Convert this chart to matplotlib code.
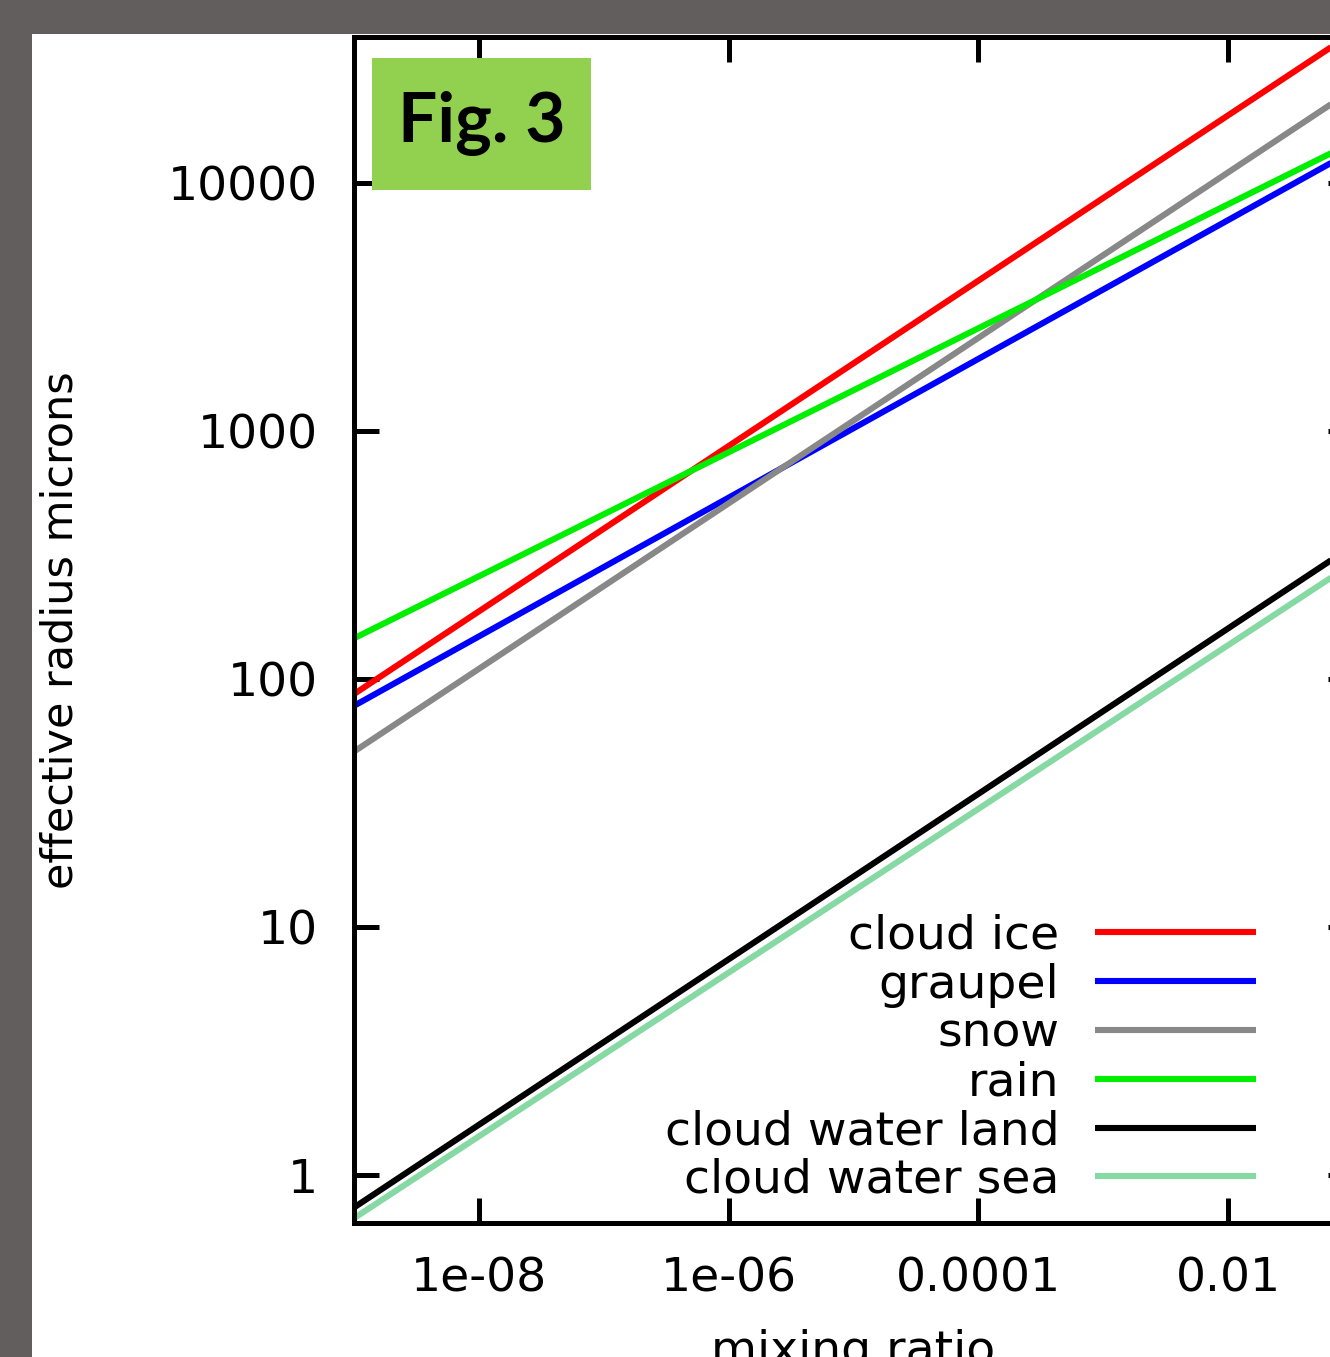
import matplotlib
matplotlib.use("Agg")
import matplotlib.pyplot as plt
from matplotlib.patches import Rectangle

# mixing ratio at the two ends of the plotted range (straight lines on log-log)
mixing_ratio = [1e-9, 1e-1]

# effective radius (microns) read at those two ends
cloud_ice = [87, 40400]
graupel = [78, 13500]
snow = [51, 23800]
rain = [146, 14600]
cloud_water_land = [0.74, 345]
cloud_water_sea = [0.67, 293]

series_names = ["cloud ice", "graupel", "snow", "rain",
                "cloud water land", "cloud water sea"]
series_values = [cloud_ice, graupel, snow, rain, cloud_water_land, cloud_water_sea]
series_colors = ["#ff0000", "#0000ff", "#888888", "#00ee00", "#000000", "#86d9a3"]

x_ticks = [1e-8, 1e-6, 1e-4, 1e-2]
x_tick_labels = ["1e-08", "1e-06", "0.0001", "0.01"]
y_ticks = [1, 10, 100, 1000, 10000]
y_tick_labels = ["1", "10", "100", "1000", "10000"]

W, H = 1330, 1357
fig = plt.figure(figsize=(W / 100, H / 100), dpi=100)
fig.patch.set_facecolor("#625e5d")

# white page inside the dark frame
fig.add_artist(Rectangle((32 / W, 0), 1.0, 1 - 34 / H, transform=fig.transFigure,
                         facecolor="white", edgecolor="none", zorder=0))

left, right = 354 / W, 1353 / W
bottom, top = 1 - 1223 / H, 1 - 37 / H
ax = fig.add_axes([left, bottom, right - left, top - bottom])
ax.set_facecolor("white")

for name, vals, col in zip(series_names, series_values, series_colors):
    ax.plot(mixing_ratio, vals, color=col, lw=4.4, label=name, solid_capstyle="butt")

ax.set_xscale("log")
ax.set_yscale("log")
ax.set_xlim(1e-9, 1e-1)
ax.set_ylim(0.641, 38800)

ax.set_xticks(x_ticks)
ax.set_xticklabels(x_tick_labels)
ax.set_yticks(y_ticks)
ax.set_yticklabels(y_tick_labels)
ax.minorticks_off()

for s in ax.spines.values():
    s.set_linewidth(3.6)
ax.tick_params(which="major", direction="in", length=18, width=3.6,
               top=True, right=True, labelsize=34)
ax.tick_params(axis="y", pad=26)
ax.tick_params(axis="x", pad=24)

ax.set_xlabel("mixing ratio", fontsize=34, labelpad=20)
ax.set_ylabel("effective radius microns", fontsize=31, labelpad=62)

leg = ax.legend(loc="lower right", bbox_to_anchor=(0.903, 0.017), frameon=False,
                fontsize=34, markerfirst=False, handlelength=3.41,
                handletextpad=0.76, labelspacing=0.08, borderaxespad=0,
                borderpad=0)

# "Fig. 3" tag
fig.text((372 + 591) / 2 / W, 1 - (58 + 190) / 2 / H, "Fig. 3",
         ha="center", va="center", fontsize=50, fontweight="bold",
         family=["Lato", "DejaVu Sans"], zorder=5)
fig.add_artist(Rectangle((372 / W, 1 - 190 / H), (591 - 372) / W, (190 - 58) / H,
                         transform=fig.transFigure, facecolor="#92d050",
                         edgecolor="none", zorder=4))

fig.savefig("out.png", dpi=100, facecolor=fig.get_facecolor())
